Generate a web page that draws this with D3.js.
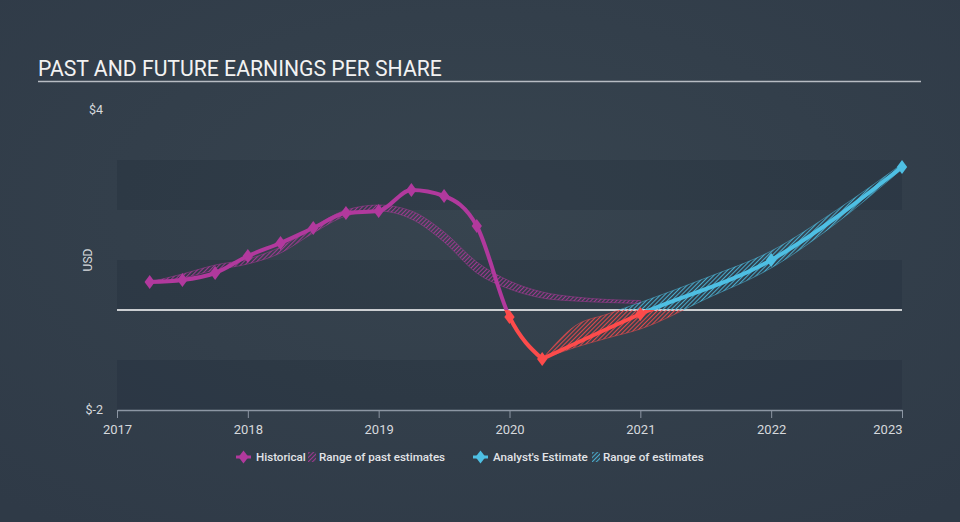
<!DOCTYPE html>
<html>
<head>
<meta charset="utf-8">
<script src="https://cdn.jsdelivr.net/npm/d3@7"></script>
<style>
  html, body { margin: 0; padding: 0; width: 960px; height: 522px; overflow: hidden; }
  svg { display: block; }
</style>
</head>
<body>
<svg id="chart" width="960" height="522"></svg>
<script>
// ---------------- data ----------------
const titleText = "PAST AND FUTURE EARNINGS PER SHARE";
const yTickValues = [4, -2];
const yTickLabels = ["$4", "$-2"];
const xTickValues = [2017, 2018, 2019, 2020, 2021, 2022, 2023];
const bandValues = [3, 2, 1, 0, -1];

const histX = [2017.25, 2017.5, 2017.75, 2018.0, 2018.25, 2018.5, 2018.75, 2019.0, 2019.25, 2019.5, 2019.75, 2020.0, 2020.25];
const histY = [0.56, 0.60, 0.74, 1.08, 1.34, 1.64, 1.94, 1.98, 2.40, 2.28, 1.68, -0.14, -0.98];

const estX = [2020.25, 2021.0, 2022.0, 2023.0];
const estY = [-0.98, -0.08, 1.00, 2.86];
const estMarkerX = [2021.0, 2022.0, 2023.0];
const estMarkerY = [-0.08, 1.00, 2.86];

const pastX    = [2017.25, 2017.5, 2017.75, 2018.0, 2018.25, 2018.5, 2018.75, 2019.0, 2019.25, 2019.5, 2019.75, 2020.0, 2020.25, 2020.5, 2020.75, 2021.0];
const pastLow  = [0.56, 0.64, 0.80, 0.92, 1.14, 1.54, 1.88, 1.98, 1.82, 1.36, 0.74, 0.42, 0.24, 0.18, 0.15, 0.13];
const pastHigh = [0.56, 0.72, 0.90, 1.02, 1.26, 1.66, 2.00, 2.10, 1.98, 1.56, 0.96, 0.58, 0.36, 0.26, 0.21, 0.19];

const futX    = [2020.25, 2020.5, 2020.75, 2021.0, 2021.5, 2022.0, 2022.5, 2023.0];
const futHigh = [-0.98, -0.32, -0.08, 0.15, 0.64, 1.18, 2.00, 2.92];
const futLow  = [-0.98, -0.75, -0.56, -0.38, 0.22, 0.84, 1.74, 2.82];

const legendLabels = ["Historical", "Range of past estimates", "Analyst's Estimate", "Range of estimates"];
const legendTypes = ["line", "hatch", "line", "hatch"];

// ---------------- colors ----------------
const C_HIST = "#b1399d";
const C_EST = "#4ebfe3";
const C_NEG = "#fd4b4b";

// ---------------- setup ----------------
const W = 960, H = 522;
const svg = d3.select("#chart");
const defs = svg.append("defs");

const bg = defs.append("radialGradient").attr("id", "bg")
  .attr("cx", "50%").attr("cy", "40%").attr("r", "75%");
bg.append("stop").attr("offset", "0%").attr("stop-color", "#37444f");
bg.append("stop").attr("offset", "100%").attr("stop-color", "#2f3a47");
svg.append("rect").attr("width", W).attr("height", H).attr("fill", "url(#bg)");

const x = d3.scaleLinear().domain([2017, 2023]).range([117, 902]);
const y = d3.scaleLinear().domain([-2, 4]).range([410, 110]);

// hatch patterns
function hatch(id, color) {
  const p = defs.append("pattern").attr("id", id)
    .attr("patternUnits", "userSpaceOnUse").attr("width", 3).attr("height", 3)
    .attr("patternTransform", "rotate(45)");
  p.append("line").attr("x1", 0.5).attr("y1", 0).attr("x2", 0.5).attr("y2", 3)
    .attr("stroke", color).attr("stroke-width", 1.2).attr("stroke-opacity", 0.85);
}
hatch("hatchHist", C_HIST);
hatch("hatchEst", C_EST);
hatch("hatchNeg", C_NEG);

// clip paths above/below zero
defs.append("clipPath").attr("id", "clipPos").append("rect")
  .attr("x", 0).attr("y", 0).attr("width", W).attr("height", y(0));
defs.append("clipPath").attr("id", "clipNeg").append("rect")
  .attr("x", 0).attr("y", y(0)).attr("width", W).attr("height", H - y(0));

// bands (alternate darker)
svg.append("g").selectAll("rect").data(bandValues).join("rect")
  .attr("x", x(2017)).attr("width", x(2023) - x(2017))
  .attr("y", d => y(d)).attr("height", d => y(d - 1) - y(d))
  .attr("fill", "#0a1420")
  .attr("fill-opacity", (d, i) => i % 2 === 0 ? 0.12 : 0);

// title
svg.append("text").attr("x", 38).attr("y", 76)
  .attr("font-family", "Roboto, sans-serif").attr("font-size", 21.2)
  .attr("fill", "#f2f2f2").text(titleText);
svg.append("line").attr("x1", 38).attr("x2", 921).attr("y1", 81.5).attr("y2", 81.5)
  .attr("stroke", "#b7bcc3").attr("stroke-width", 1.5);

// y labels
svg.append("g").selectAll("text").data(yTickValues).join("text")
  .attr("x", 103).attr("y", d => y(d)).attr("dy", "0.35em")
  .attr("text-anchor", "end")
  .attr("font-family", "Roboto, sans-serif").attr("font-size", 12.5)
  .attr("fill", "#d6d9dd").text((d, i) => yTickLabels[i]);
svg.append("text").attr("transform", "translate(92,260) rotate(-90)")
  .attr("text-anchor", "middle")
  .attr("font-family", "Roboto, sans-serif").attr("font-size", 12)
  .attr("fill", "#d6d9dd").text("USD");

// x axis
const xAxisG = svg.append("g").attr("transform", `translate(0,${y(-2)})`)
  .call(d3.axisBottom(x).tickValues(xTickValues).tickFormat(d3.format("d")).tickSize(8).tickSizeOuter(0));
xAxisG.select(".domain").attr("stroke", "#8c96a3").attr("stroke-width", 1.3);
xAxisG.selectAll(".tick line").attr("stroke", "#8c96a3").attr("stroke-width", 1);
xAxisG.selectAll(".tick text")
  .attr("y", 15)
  .attr("font-family", "Roboto, sans-serif").attr("font-size", 13)
  .attr("fill", "#d6d9dd")
  .attr("text-anchor", d => d === 2023 ? "end" : "middle");

// zero line
svg.append("line").attr("x1", x(2017)).attr("x2", x(2023))
  .attr("y1", y(0)).attr("y2", y(0))
  .attr("stroke", "#ffffff").attr("stroke-width", 1.5);

// generators
const lineGen = d3.line().x(d => x(d[0])).y(d => y(d[1])).curve(d3.curveMonotoneX);
const areaGen = d3.area().x(d => x(d[0])).y0(d => y(d[1])).y1(d => y(d[2])).curve(d3.curveMonotoneX);

function drawArea(xs, lo, hi, posColor, posPattern) {
  const data = xs.map((v, i) => [v, lo[i], hi[i]]);
  [["clipPos", posPattern, posColor], ["clipNeg", "hatchNeg", C_NEG]].forEach(([clip, pat, col]) => {
    const g = svg.append("g").attr("clip-path", `url(#${clip})`);
    g.append("path").attr("d", areaGen(data)).attr("fill", `url(#${pat})`)
      .attr("stroke", col).attr("stroke-width", 0.8).attr("stroke-opacity", 0.6);
  });
}
function drawLine(xs, ys, posColor) {
  const data = xs.map((v, i) => [v, ys[i]]);
  [["clipPos", posColor], ["clipNeg", C_NEG]].forEach(([clip, col]) => {
    svg.append("g").attr("clip-path", `url(#${clip})`)
      .append("path").attr("d", lineGen(data)).attr("fill", "none")
      .attr("stroke", col).attr("stroke-width", 4).attr("stroke-linejoin", "round").attr("stroke-linecap", "round");
  });
}
const diamond = d3.symbol().type(d3.symbolDiamond).size(70);
function drawMarkers(xs, ys, posColor) {
  svg.append("g").selectAll("path").data(xs.map((v, i) => [v, ys[i]])).join("path")
    .attr("d", diamond)
    .attr("transform", d => `translate(${x(d[0])},${y(d[1])}) scale(1.15,0.9)`)
    .attr("fill", d => d[1] < 0 ? C_NEG : posColor);
}

drawArea(pastX, pastLow, pastHigh, C_HIST, "hatchHist");
drawArea(futX, futLow, futHigh, C_EST, "hatchEst");
drawLine(histX, histY, C_HIST);
drawLine(estX, estY, C_EST);
drawMarkers(histX, histY, C_HIST);
drawMarkers(estMarkerX, estMarkerY, C_EST);

// legend
const legendColors = [C_HIST, C_HIST, C_EST, C_EST];
const legendPatterns = ["hatchHist", "hatchHist", "hatchEst", "hatchEst"];
const legendPos = [236, 308, 473, 592];
const legendG = svg.append("g");
legendLabels.forEach((label, i) => {
  const lx = legendPos[i], ly = 457;
  const g = legendG.append("g").attr("transform", `translate(${lx},${ly})`);
  let tx;
  if (legendTypes[i] === "line") {
    g.append("line").attr("x1", 0).attr("x2", 15).attr("y1", 0).attr("y2", 0)
      .attr("stroke", legendColors[i]).attr("stroke-width", 3);
    g.append("path").attr("d", d3.symbol().type(d3.symbolDiamond).size(60))
      .attr("transform", "translate(7.5,0) scale(1.2,0.9)").attr("fill", legendColors[i]);
    tx = 20;
  } else {
    g.append("rect").attr("x", 0).attr("y", -5).attr("width", 8).attr("height", 10)
      .attr("fill", `url(#${legendPatterns[i]})`);
    tx = 11;
  }
  g.append("text").attr("x", tx).attr("y", 0).attr("dy", "0.35em")
    .attr("font-family", "Roboto, sans-serif").attr("font-size", 11.6)
    .attr("font-weight", 500)
    .attr("fill", "#e2e4e7").text(label);
});
</script>
</body>
</html>
